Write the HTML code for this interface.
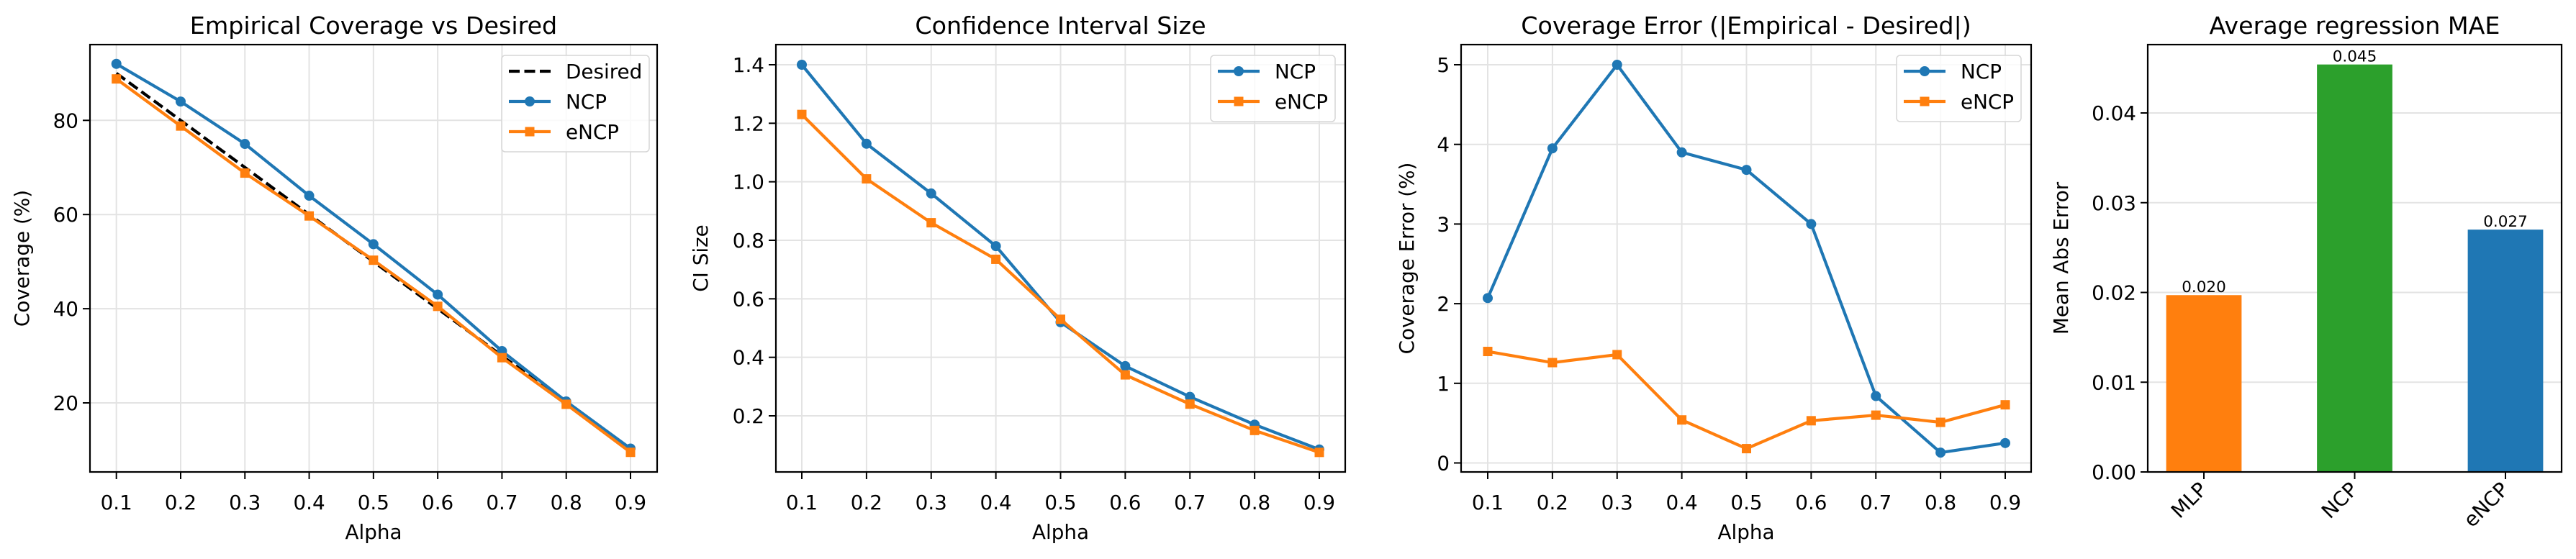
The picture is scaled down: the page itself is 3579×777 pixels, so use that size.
<!DOCTYPE html>
<html><head><meta charset="utf-8">
<style>
html,body{margin:0;padding:0;background:#fff;}
svg{display:block;font-family:"DejaVu Sans","Liberation Sans",sans-serif;}
</style></head>
<body>
<svg id="fig" width="3579" height="777" viewBox="0 0 3579 777" xmlns="http://www.w3.org/2000/svg"></svg>
<script>
// ---- data ----
const alphas = [0.1,0.2,0.3,0.4,0.5,0.6,0.7,0.8,0.9];
const alphaTicks = ["0.1","0.2","0.3","0.4","0.5","0.6","0.7","0.8","0.9"];
const covDesired = [90,80,70,60,50,40,30,20,10];
const covNCP = [92,84,75,64,53.7,43,31,20.3,10.3];
const covENCP = [88.8,78.8,68.8,59.7,50.3,40.5,29.6,19.7,9.5];
const covTicks = [20,40,60,80];
const ciNCP = [1.40,1.13,0.96,0.78,0.52,0.37,0.265,0.17,0.085];
const ciENCP = [1.23,1.01,0.86,0.735,0.53,0.34,0.24,0.15,0.075];
const ciTicks = [0.2,0.4,0.6,0.8,1.0,1.2,1.4];
const errNCP = [2.07,3.95,5.0,3.9,3.68,3.0,0.84,0.13,0.25];
const errENCP = [1.4,1.26,1.36,0.54,0.18,0.53,0.6,0.51,0.73];
const errTicks = [0,1,2,3,4,5];
const maeModels = ["MLP","NCP","eNCP"];
const maeValues = [0.0197,0.0454,0.0270];
const maeLabels = ["0.020","0.045","0.027"];
const maeTicks = [0,0.01,0.02,0.03,0.04];

const svg = document.getElementById('fig');
const NS = "http://www.w3.org/2000/svg";
function mk(tag, attrs, parent, txt){
  const e = document.createElementNS(NS, tag);
  for (const k in attrs) e.setAttribute(k, attrs[k]);
  if (txt !== undefined) e.textContent = txt;
  (parent || svg).appendChild(e);
  return e;
}
const BLUE="#1f77b4", ORANGE="#ff7f0e", GREEN="#2ca02c";
const TOP=62, BOT=656;

function linear(d0,d1,r0,r1){ return v => r0 + (v-d0)*(r1-r0)/(d1-d0); }

function panel(opt){
  const g = mk('g', {});
  
  
  const x = opt.x, y = opt.y;
  // grid
  const grid = mk('g', {}, g);
  
  
  if (opt.xgrid) opt.xvals.forEach(v => mk('line',{x1:x(v),x2:x(v),y1:TOP,y2:BOT,stroke:'#e3e3e3','stroke-width':2},grid));
  opt.yticks.forEach(v => mk('line',{x1:opt.L,x2:opt.R,y1:y(v),y2:y(v),stroke:'#e3e3e3','stroke-width':2},grid));
  // y ticks
  opt.yticks.forEach((v,i) => {
    mk('line',{x1:opt.L-10,x2:opt.L,y1:y(v),y2:y(v),stroke:'#000','stroke-width':2},g);
    const t = mk('text',{x:opt.L-16,y:y(v)+10,'text-anchor':'end','font-size':27.8,fill:'#000'},g,opt.ylabels[i]);
    
    
  });
  // title
  const tt = mk('text',{x:(opt.L+opt.R)/2,y:47,'text-anchor':'middle','font-size':33.3,fill:'#000'},g,opt.title);
  
  
  // y label
  const yl = mk('text',{x:0,y:0,'text-anchor':'middle','font-size':27.8,fill:'#000',transform:`translate(${opt.ylx},${(TOP+BOT)/2}) rotate(-90)`},g,opt.ylabel);
  
  
  return g;
}

function linePanel(opt){
  const x = linear(0.1,0.9,opt.x1,opt.x9);
  const y = linear(opt.ya,opt.yb,opt.pa,opt.pb);
  opt.x = x; opt.y = y; opt.xvals = alphas; opt.xgrid = true;
  const g = panel(opt);
  // series
  opt.series.forEach(s => {
    const sg = mk('g',{},g);
    
    
    const pts = alphas.map((a,i)=>x(a)+','+y(s.vals[i])).join(' ');
    const attrs = {points:pts,fill:'none',stroke:s.color,'stroke-width':4.2,'stroke-linejoin':'round'};
    if (s.dash) attrs['stroke-dasharray'] = '15,6.5';
    mk('polyline',attrs,sg);
    alphas.forEach((a,i)=>{
      if (s.marker==='o') mk('circle',{cx:x(a),cy:y(s.vals[i]),r:7,fill:s.color},sg);
      else if (s.marker==='s') mk('rect',{x:x(a)-6.5,y:y(s.vals[i])-6.5,width:13,height:13,fill:s.color},sg);
    });
  });
  // axes frame
  mk('rect',{x:opt.L,y:TOP,width:opt.R-opt.L,height:BOT-TOP,fill:'none',stroke:'#000','stroke-width':2.2},g);
  // x ticks
  alphas.forEach((a,i)=>{
    mk('line',{x1:x(a),x2:x(a),y1:BOT,y2:BOT+10,stroke:'#000','stroke-width':2},g);
    const t = mk('text',{x:x(a),y:708,'text-anchor':'middle','font-size':27.8,fill:'#000'},g,alphaTicks[i]);
    
    
  });
  const xl = mk('text',{x:(opt.L+opt.R)/2,y:749,'text-anchor':'middle','font-size':27.8,fill:'#000'},g,'Alpha');
  
  
  // legend
  const lg = mk('g',{},g);
  
  
  const n = opt.series.length;
  const lx = opt.legX, lw = opt.legW;
  mk('rect',{x:lx,y:77,width:lw,height:n*42+8,rx:5,fill:'#fff','fill-opacity':0.8,stroke:'#d6d6d6','stroke-width':1.5},lg);
  opt.series.forEach((s,i)=>{
    const cy = 99 + i*42;
    const e = mk('g',{},lg);
    
    
    const la = {x1:lx+10,x2:lx+68,y1:cy,y2:cy,stroke:s.color,'stroke-width':4.2};
    if (s.dash) la['stroke-dasharray']='15,6.5';
    mk('line',la,e);
    if (s.marker==='o') mk('circle',{cx:lx+39,cy:cy,r:7,fill:s.color},e);
    if (s.marker==='s') mk('rect',{x:lx+32.5,y:cy-6.5,width:13,height:13,fill:s.color},e);
    mk('text',{x:lx+89,y:cy+10,'font-size':27.8,fill:'#000'},e,s.label);
  });
}

linePanel({name:'coverage-panel',L:125,R:913,x1:161.7,x9:876,ya:80,yb:20,pa:167.3,pb:560,
  yticks:covTicks,ylabels:covTicks.map(String),title:'Empirical Coverage vs Desired',ylabel:'Coverage (%)',ylx:40,
  legX:697,legW:205,
  series:[{name:'desired-line',label:'Desired',vals:covDesired,color:'#000',dash:true,marker:null},
          {name:'ncp-line',label:'NCP',vals:covNCP,color:BLUE,marker:'o'},
          {name:'encp-line',label:'eNCP',vals:covENCP,color:ORANGE,marker:'s'}]});

linePanel({name:'ci-size-panel',L:1078,R:1869,x1:1114,x9:1833,ya:1.4,yb:0.2,pa:90,pb:578,
  yticks:ciTicks,ylabels:ciTicks.map(v=>v.toFixed(1)),title:'Confidence Interval Size',ylabel:'CI Size',ylx:983,
  legX:1682,legW:173,
  series:[{name:'ncp-line',label:'NCP',vals:ciNCP,color:BLUE,marker:'o'},
          {name:'encp-line',label:'eNCP',vals:ciENCP,color:ORANGE,marker:'s'}]});

linePanel({name:'coverage-error-panel',L:2030,R:2822,x1:2067,x9:2786,ya:5,yb:0,pa:90,pb:643.5,
  yticks:errTicks,ylabels:errTicks.map(String),title:'Coverage Error (|Empirical - Desired|)',ylabel:'Coverage Error (%)',ylx:1964,
  legX:2635,legW:173,
  series:[{name:'ncp-line',label:'NCP',vals:errNCP,color:BLUE,marker:'o'},
          {name:'encp-line',label:'eNCP',vals:errENCP,color:ORANGE,marker:'s'}]});

// ---- bar panel ----
(function(){
  const L=2984,R=3559;
  const x = linear(0,2,3062,3481);
  const y = linear(0,0.04,656,157);
  const g = panel({name:'mae-panel',L:L,R:R,x:x,y:y,xvals:[],xgrid:false,yticks:maeTicks,
    ylabels:maeTicks.map(v=>v.toFixed(2)),title:'Average regression MAE',ylabel:'Mean Abs Error',ylx:2873});
  const colors=[ORANGE,GREEN,BLUE];
  const bw = x(0.25)-x(0);
  maeModels.forEach((m,i)=>{
    const b = mk('rect',{x:x(i)-bw,y:y(maeValues[i]),width:2*bw,height:y(0)-y(maeValues[i]),fill:colors[i]},g);
    
    
    const t = mk('text',{x:x(i),y:y(maeValues[i])-4,'text-anchor':'middle','font-size':21.5,fill:'#000'},g,maeLabels[i]);
    
    
    mk('line',{x1:x(i),x2:x(i),y1:BOT,y2:BOT+10,stroke:'#000','stroke-width':2},g);
    const xl = mk('text',{x:0,y:0,'text-anchor':'end','font-size':27.8,fill:'#000',transform:`translate(${x(i)+6},${682}) rotate(-45)`},g,m);
    
    
  });
  mk('rect',{x:L,y:TOP,width:R-L,height:BOT-TOP,fill:'none',stroke:'#000','stroke-width':2.2},g);
})();
</script>
</body></html>
